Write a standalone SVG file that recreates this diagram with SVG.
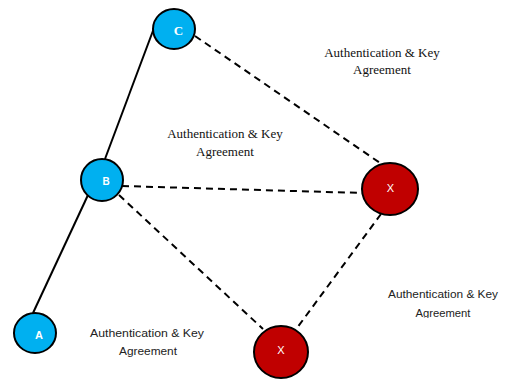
<svg xmlns="http://www.w3.org/2000/svg" width="509" height="379" viewBox="0 0 509 379">
  <style>
    .link { stroke: #000; stroke-width: 2; fill: none; }
    .dash { stroke-dasharray: 7 5; }
    .peer { fill: #00B0F0; stroke: #000; stroke-width: 2; }
    .rogue { fill: #C00000; stroke: #000; stroke-width: 2; }
    .tag { fill: #fff; text-anchor: middle; }
    .serif { font-family: "Liberation Serif", "Times New Roman", serif; font-size: 13px; fill: #111; text-anchor: middle; }
    .sans { font-family: "Liberation Sans", Arial, sans-serif; font-size: 11px; fill: #222; text-anchor: middle; }
  </style>
  <defs>
    <clipPath id="cut-right">
      <rect x="370" y="270" width="139" height="48"/>
    </clipPath>
  </defs>
  <rect width="509" height="379" fill="#fff"/>

  <g id="connectors">
    <line class="link" x1="33" y1="313" x2="88" y2="195"/>
    <line class="link" x1="105" y1="159" x2="154" y2="28"/>
    <line class="link dash" x1="195" y1="36" x2="383" y2="165"/>
    <line class="link dash" x1="122" y1="186" x2="363" y2="193"/>
    <line class="link dash" x1="119" y1="195" x2="263" y2="329"/>
    <line class="link dash" x1="381" y1="214" x2="297" y2="328"/>
  </g>

  <g id="node-c">
    <ellipse class="peer" cx="174" cy="29" rx="21" ry="20"/>
    <text class="tag" x="178.5" y="35" font-family="Liberation Serif, serif" font-weight="bold" font-size="13">C</text>
  </g>
  <g id="node-b">
    <ellipse class="peer" cx="102" cy="180" rx="21" ry="21"/>
    <text class="tag" x="106" y="185" font-family="Liberation Sans, sans-serif" font-weight="bold" font-size="10">B</text>
  </g>
  <g id="node-a">
    <ellipse class="peer" cx="35" cy="333" rx="21" ry="20"/>
    <text class="tag" x="39" y="339" font-family="Liberation Sans, sans-serif" font-weight="bold" font-size="11">A</text>
  </g>
  <g id="node-x1">
    <ellipse class="rogue" cx="390" cy="189" rx="28" ry="26"/>
    <text class="tag" x="390.5" y="192" font-family="Liberation Sans, sans-serif" font-size="11">X</text>
  </g>
  <g id="node-x2">
    <ellipse class="rogue" cx="281" cy="352" rx="27" ry="26"/>
    <text class="tag" x="281" y="354" font-family="Liberation Sans, sans-serif" font-size="11">X</text>
  </g>

  <g id="labels">
    <text class="serif" x="382" y="57">Authentication &amp; Key</text>
    <text class="serif" x="382" y="74">Agreement</text>
    <text class="serif" x="225" y="138">Authentication &amp; Key</text>
    <text class="serif" x="225" y="156">Agreement</text>
    <g clip-path="url(#cut-right)">
      <text class="sans" x="443" y="298" textLength="110" lengthAdjust="spacingAndGlyphs">Authentication &amp; Key</text>
      <text class="sans" x="443" y="317" textLength="55" lengthAdjust="spacingAndGlyphs">Agreement</text>
    </g>
    <text class="sans" x="147" y="337" textLength="114" lengthAdjust="spacingAndGlyphs">Authentication &amp; Key</text>
    <text class="sans" x="148" y="355" textLength="58" lengthAdjust="spacingAndGlyphs">Agreement</text>
  </g>
</svg>
